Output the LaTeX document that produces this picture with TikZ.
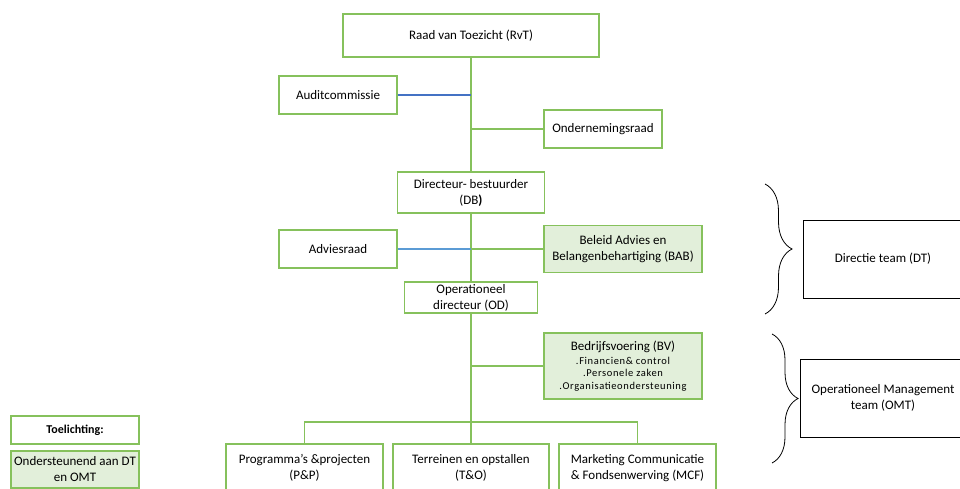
\documentclass[tikz,border=0pt]{standalone}
\usepackage{fontspec}
\setmainfont{Carlito}
\usetikzlibrary{decorations.pathreplacing}
\definecolor{boxgreen}{RGB}{134,193,92}
\definecolor{fillgreen}{RGB}{226,239,218}
\definecolor{auditblue}{RGB}{68,114,196}
\definecolor{adviesblue}{RGB}{91,155,213}
\tikzset{
  orgbox/.style={draw=boxgreen, line width=1.2pt, align=center, inner sep=0pt, font=\fontsize{13}{16}\selectfont},
  steunbox/.style={orgbox, fill=fillgreen},
  teambox/.style={draw=black, line width=0.8pt, align=center, inner sep=0pt, font=\fontsize{13}{16}\selectfont},
  lijn/.style={draw=boxgreen, line width=1.6pt},
  accolade/.style={decorate, decoration={brace, amplitude=#1}, line width=0.8pt}
}
\newcommand{\kleintekst}{\fontsize{10.5}{12.5}\selectfont\addfontfeatures{LetterSpace=6}}
\begin{document}
\begin{tikzpicture}[x=1pt, y=-1pt]
	\useasboundingbox[fill=white] (0,0) rectangle (960,489);
	% bestuur
	\node[orgbox, minimum width=256, minimum height=43] (rvt) at (471,35.5) {Raad van Toezicht (RvT)};
	\node[orgbox, minimum width=118, minimum height=38] (audit) at (338,95) {Auditcommissie};
	\node[orgbox, minimum width=118, minimum height=38] (or) at (603,129) {Ondernemingsraad};
	\node[orgbox, minimum width=147, minimum height=41] (db) at (471,192.5) {Directeur- bestuurder\\(DB\textbf{)}};
	\node[orgbox, minimum width=118, minimum height=38] (advies) at (338,249) {Adviesraad};
	\node[steunbox, minimum width=158, minimum height=47] (bab) at (623,249) {Beleid Advies en\\Belangenbehartiging (BAB)};
	\node[orgbox, minimum width=133, minimum height=31] (od) at (471,297.5) {Operationeel\\directeur (OD)};
	\node[steunbox, minimum width=158, minimum height=66] (bv) at (623,366) {Bedrijfsvoering (BV)\\[-2pt]{\kleintekst .Financien\& control}\\[-3.5pt]{\kleintekst .Personele zaken}\\[-3.5pt]{\kleintekst .Organisatieondersteuning}};
	% afdelingen
	\node[orgbox, minimum width=157, minimum height=48] (pp) at (304.5,468) {Programma’s \&projecten\\(P\&P)};
	\node[orgbox, minimum width=156, minimum height=48] (teo) at (471,468) {Terreinen en opstallen\\(T\&O)};
	\node[orgbox, minimum width=157, minimum height=48] (mcf) at (637.5,468) {Marketing Communicatie\\\& Fondsenwerving (MCF)};
	% teams
	\node[teambox, minimum width=160, minimum height=78] (dt) at (883,259) {Directie team (DT)};
	\node[teambox, minimum width=166, minimum height=78] (omt) at (883,398) {Operationeel Management\\team (OMT)};
	% toelichting
	\node[orgbox, minimum width=128, minimum height=28, font=\fontsize{12}{15}\selectfont\bfseries] (uitleg) at (75,430) {Toelichting:};
	\node[steunbox, minimum width=128, minimum height=37] (steun) at (75,469.5) {Ondersteunend aan DT\\en OMT};
	% lijnen
	\draw[lijn] (rvt.south) -- (db.north);
	\draw[lijn] (db.south) -- (od.north);
	\draw[lijn] (od.south) -- (teo.north);
	\draw[auditblue, line width=1.3pt] (audit.east) -- (audit.east -| rvt.south);
	\draw[lijn] (or.west) -- (or.west -| rvt.south);
	\draw[adviesblue, line width=1.3pt] (advies.east) -- (advies.east -| db.south);
	\draw[lijn] (bab.west) -- (bab.west -| db.south);
	\draw[lijn] (bv.west) -- (bv.west -| od.south);
	\coordinate (bus) at (471,422);
	\draw[lijn] (pp.north) |- (bus) -| (mcf.north);
	% accolades
	\coordinate (dtboven) at (765,184);
	\coordinate (dtonder) at (765,314);
	\coordinate (omtboven) at (772,334);
	\coordinate (omtonder) at (772,463);
	\draw[accolade=27pt] (dtboven) -- (dtonder);
	\draw[accolade=26pt] (omtboven) -- (omtonder);
\end{tikzpicture}
\end{document}
